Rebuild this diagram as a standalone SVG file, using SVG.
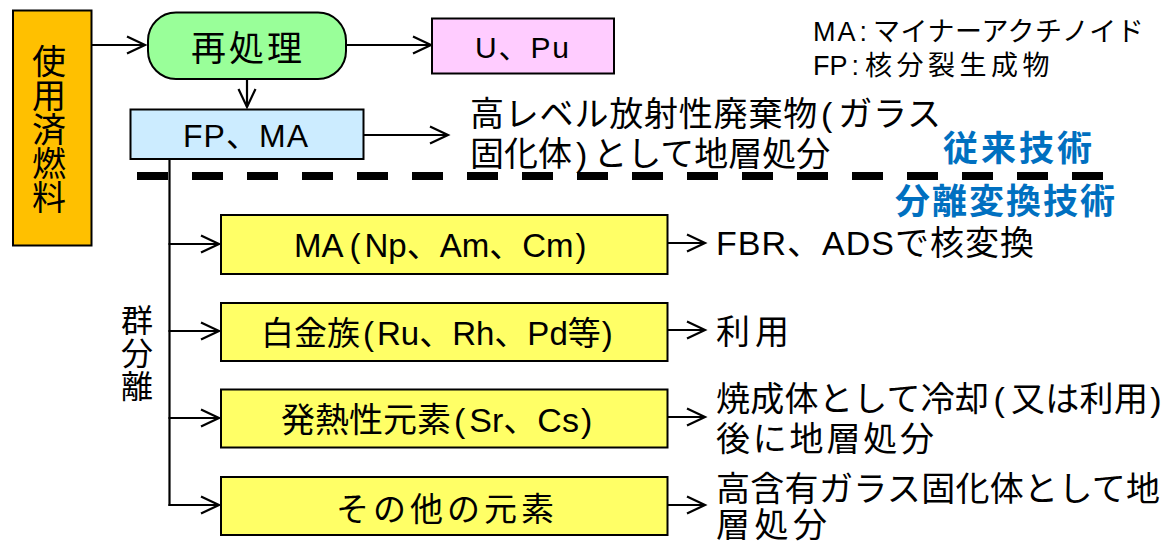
<svg xmlns="http://www.w3.org/2000/svg" width="1171" height="543" viewBox="0 0 1171 543">
<style>
.t{font-family:"Liberation Sans","Noto Sans CJK JP",sans-serif;fill:#000}
.v{font-family:"Noto Sans CJK JP",sans-serif;fill:#000;writing-mode:vertical-rl}
.b{stroke:#000;stroke-width:2}
.c{stroke:#000;stroke-width:2.2;fill:none}
.blue{font-family:"Liberation Sans","Noto Sans CJK JP",sans-serif;font-weight:bold;fill:#0070C0;font-size:35px}
</style>
<defs>
<marker id="ah" markerUnits="userSpaceOnUse" markerWidth="24" markerHeight="24" viewBox="-21 -12 24 24" refX="0" refY="0" orient="auto">
<path d="M-18,-8.5 L0,0 L-18,8.5" fill="none" stroke="#000" stroke-width="2.2"/>
</marker>
</defs>
<rect width="1171" height="543" fill="#fff"/>

<g id="connectors">
<line class="c" x1="92" y1="45" x2="145" y2="45" marker-end="url(#ah)"/>
<line class="c" x1="247" y1="79" x2="247" y2="107" marker-end="url(#ah)"/>
<line class="c" x1="347" y1="45" x2="431" y2="45" marker-end="url(#ah)"/>
<line class="c" x1="364" y1="135" x2="448" y2="135" marker-end="url(#ah)"/>
<line class="c" x1="169.5" y1="158" x2="169.5" y2="506"/>
<line class="c" x1="168.5" y1="244" x2="219" y2="244" marker-end="url(#ah)"/>
<line class="c" x1="168.5" y1="331" x2="219" y2="331" marker-end="url(#ah)"/>
<line class="c" x1="168.5" y1="418" x2="219" y2="418" marker-end="url(#ah)"/>
<line class="c" x1="168.5" y1="505" x2="219" y2="505" marker-end="url(#ah)"/>
<line class="c" x1="668" y1="243" x2="705" y2="243" marker-end="url(#ah)"/>
<line class="c" x1="668" y1="330" x2="705" y2="330" marker-end="url(#ah)"/>
<line class="c" x1="668" y1="417" x2="705" y2="417" marker-end="url(#ah)"/>
<line class="c" x1="668" y1="505" x2="705" y2="505" marker-end="url(#ah)"/>
</g>

<g id="divider">
<line x1="137" y1="176" x2="1103" y2="176" stroke="#000" stroke-width="8" stroke-dasharray="31 24"/>
<text class="blue" x="943" y="161" textLength="149">従来技術</text>
<text class="blue" x="895" y="214" textLength="220">分離変換技術</text>
</g>

<g id="spent-fuel">
<rect class="b" x="13" y="10.5" width="78.5" height="235" fill="#FFC000"/>
<text class="v" font-size="34" x="49" y="44.5">使用済燃料</text>
</g>

<g id="reprocessing">
<rect class="b" x="148" y="12.5" width="198" height="66.5" rx="28" ry="28" fill="#99FF99"/>
<text class="t" font-size="35" x="191" y="61" textLength="111">再処理</text>
</g>

<g id="u-pu">
<rect class="b" x="432" y="18.5" width="182" height="55" fill="#FFCCFF"/>
<text class="t" font-size="30" x="475" y="58" textLength="94">U、Pu</text>
</g>

<g id="fp-ma">
<rect class="b" x="130.5" y="109.5" width="233" height="49.5" fill="#CCECFF"/>
<text class="t" font-size="32" x="183" y="147" textLength="125">FP、MA</text>
</g>

<g id="hlw">
<text class="t" font-size="34" x="470" y="126" letter-spacing="0.8">高レベル放射性廃棄物<tspan dx="3">(</tspan><tspan dx="5">ガラス</tspan></text>
<text class="t" font-size="34" x="470" y="166">固化体<tspan dx="4">)</tspan><tspan dx="6">として地層処分</tspan></text>
</g>

<g id="legend">
<text class="t" font-size="27" x="813" y="41"><tspan letter-spacing="2">MA</tspan><tspan dx="2">:</tspan><tspan dx="6" letter-spacing="0.5">マイナーアクチノイド</tspan></text>
<text class="t" font-size="27" x="813" y="75">FP<tspan dx="4">:</tspan><tspan dx="6" letter-spacing="4.5">核分裂生成物</tspan></text>
</g>

<g id="group-separation">
<text class="v" font-size="32" x="137" y="304" letter-spacing="1">群分離</text>
</g>

<g id="box-ma">
<rect class="b" x="221" y="215" width="446.5" height="59" fill="#FFFF66"/>
<text class="t" font-size="33" x="294" y="257">MA<tspan dx="6">(</tspan><tspan dx="4">Np、Am、Cm</tspan><tspan dx="2">)</tspan></text>
</g>
<g id="box-pgm">
<rect class="b" x="221" y="303" width="446.5" height="58" fill="#FFFF66"/>
<text class="t" font-size="33" x="261" y="345">白金族<tspan dx="3">(</tspan><tspan dx="3">Ru、Rh、Pd等</tspan><tspan dx="1">)</tspan></text>
</g>
<g id="box-heat">
<rect class="b" x="221" y="389.5" width="446.5" height="58" fill="#FFFF66"/>
<text class="t" font-size="34" x="281" y="432">発熱性元素<tspan dx="3">(</tspan><tspan dx="4">Sr、Cs</tspan><tspan dx="2">)</tspan></text>
</g>
<g id="box-other">
<rect class="b" x="221" y="477" width="446.5" height="58" fill="#FFFF66"/>
<text class="t" font-size="33" x="336" y="521" textLength="218">その他の元素</text>
</g>

<g id="out-ma">
<text class="t" font-size="34" x="716" y="255" textLength="318">FBR、ADSで核変換</text>
</g>
<g id="out-pgm">
<text class="t" font-size="34" x="716" y="344" textLength="73">利用</text>
</g>
<g id="out-heat">
<text class="t" font-size="34" x="716" y="411" letter-spacing="0.3">焼成体として冷却<tspan dx="4">(</tspan><tspan dx="6">又は利用</tspan><tspan dx="2">)</tspan></text>
<text class="t" font-size="34" x="716" y="451" textLength="218">後に地層処分</text>
</g>
<g id="out-other">
<text class="t" font-size="34" x="716" y="501" textLength="444">高含有ガラス固化体として地</text>
<text class="t" font-size="34" x="716" y="537" textLength="111">層処分</text>
</g>
</svg>
